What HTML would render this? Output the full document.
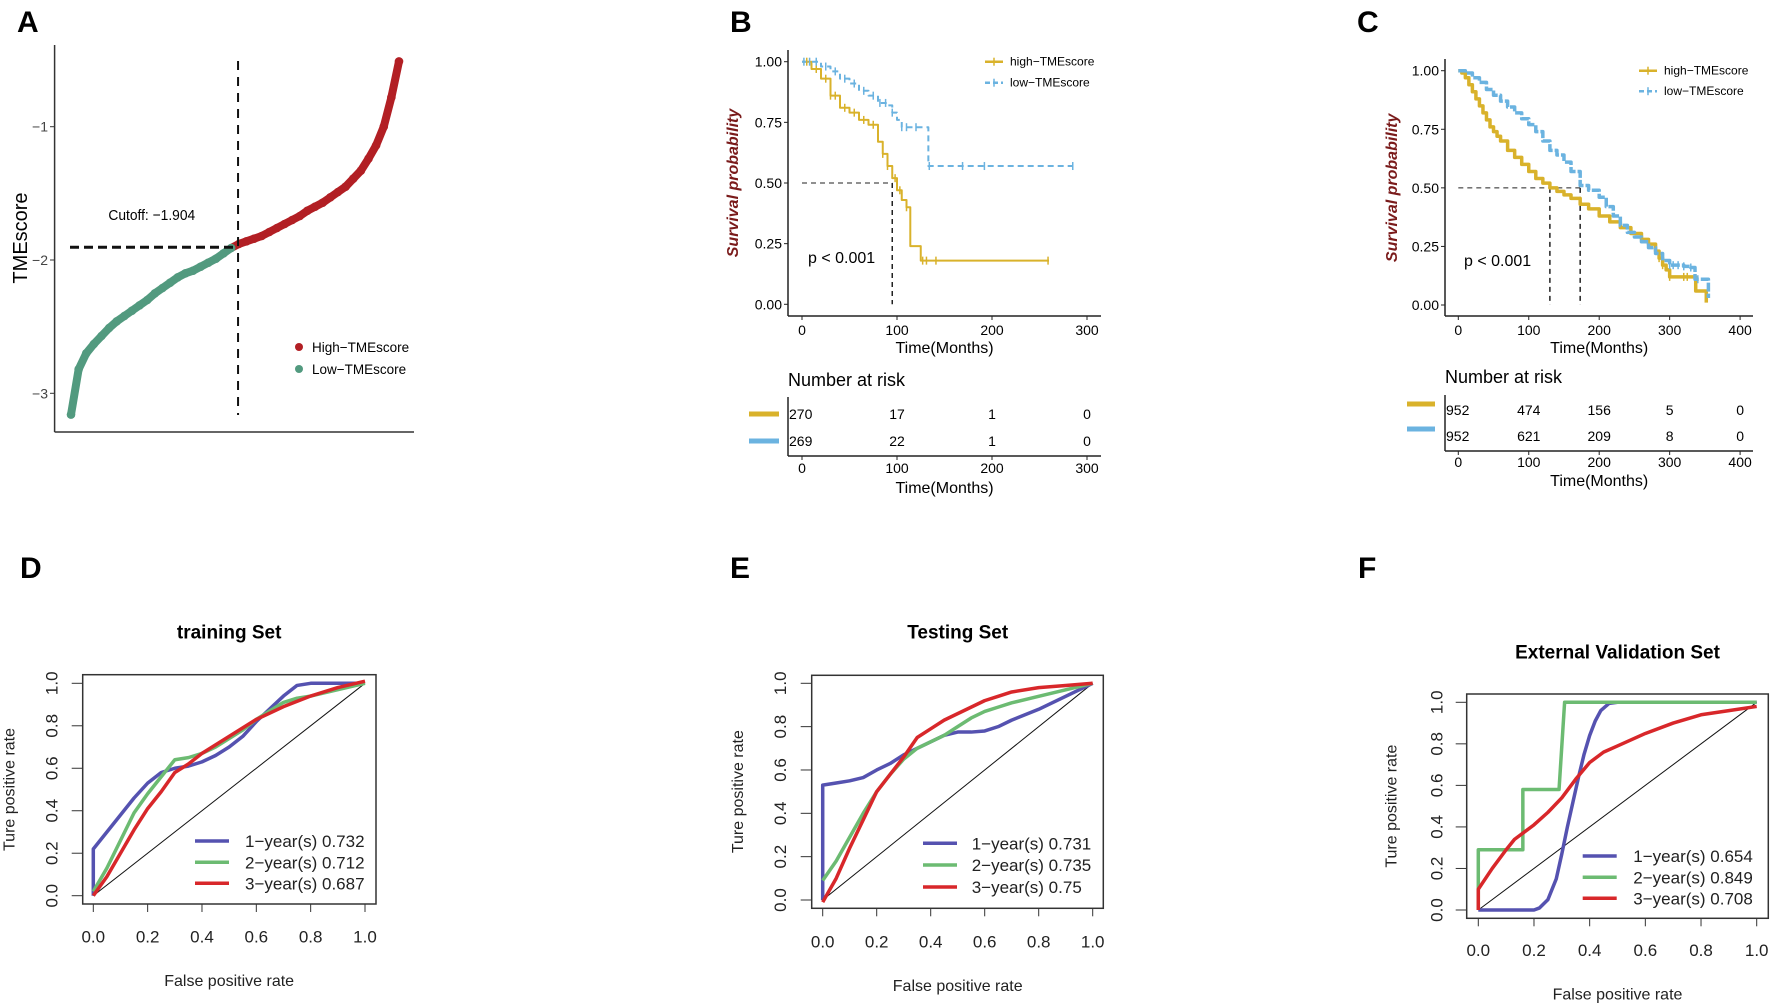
<!DOCTYPE html>
<html><head><meta charset="utf-8"><style>
html,body{margin:0;padding:0;background:#fff}
svg{display:block;font-family:"Liberation Sans",sans-serif}
</style></head><body>
<svg id="fig" width="1772" height="1005" viewBox="0 0 1772 1005" xmlns="http://www.w3.org/2000/svg"></svg>
<script>
// ---- Panel A data ----
const aScores=[-3.16,-2.82,-2.70,-2.63,-2.57,-2.51,-2.46,-2.42,-2.38,-2.34,-2.30,-2.25,-2.21,-2.17,-2.13,-2.10,-2.08,-2.05,-2.02,-1.99,-1.95,-1.91,-1.88,-1.86,-1.84,-1.82,-1.79,-1.76,-1.73,-1.70,-1.67,-1.63,-1.60,-1.57,-1.53,-1.49,-1.45,-1.39,-1.33,-1.24,-1.14,-1.00,-0.78,-0.51];
const aCutoff=-1.904;
const aTicks=[-1,-2,-3];
// ---- Panel B data ----
const bHighT=[0,10,20,30,40,50,60,70,80,85,90,95,100,105,110,114,125,260];
const bHighS=[1.0,0.97,0.93,0.86,0.81,0.79,0.76,0.74,0.67,0.62,0.57,0.52,0.47,0.43,0.40,0.24,0.18,0.18];
const bLowT=[0,20,30,40,50,60,70,80,90,95,100,105,131,133,285];
const bLowS=[1.0,0.98,0.96,0.93,0.91,0.88,0.86,0.83,0.82,0.79,0.76,0.73,0.73,0.57,0.57];
const bHighCens=[5,15,25,30,35,45,55,65,75,85,90,98,103,110,127,131,141,259];
const bLowCens=[2,8,15,25,35,45,55,65,75,82,88,95,105,110,120,134,169,192,285];
const bMedian=95;
const bTicks=[0,100,200,300];
const bRiskHigh=[270,17,1,0];
const bRiskLow=[269,22,1,0];
// ---- Panel C data ----
const cHighT=[0,5,10,15,20,25,30,35,40,45,50,55,60,70,80,90,100,110,120,130,140,150,160,173,185,200,215,230,245,260,270,280,285,290,295,300,335,337,350,352];
const cHighS=[1.0,0.99,0.97,0.94,0.91,0.88,0.85,0.82,0.79,0.76,0.74,0.72,0.70,0.66,0.63,0.60,0.57,0.54,0.52,0.50,0.485,0.47,0.455,0.43,0.41,0.38,0.355,0.33,0.305,0.28,0.26,0.23,0.20,0.17,0.15,0.12,0.12,0.06,0.06,0.01];
const cLowT=[0,10,20,30,40,50,60,70,80,90,100,110,120,130,140,150,160,173,185,200,210,220,230,240,250,260,270,280,290,300,320,330,336,353,355];
const cLowS=[1.0,0.99,0.97,0.95,0.92,0.895,0.87,0.845,0.82,0.795,0.77,0.74,0.70,0.66,0.64,0.61,0.57,0.51,0.49,0.46,0.42,0.38,0.34,0.31,0.29,0.27,0.245,0.22,0.19,0.17,0.165,0.16,0.11,0.11,0.03];
const cLowCens=[300,305,312,320,330,340];
const cHighCens=[285,290,300,320,325];
const cMedians=[130,173];
const cTicks=[0,100,200,300,400];
const cRiskHigh=[952,474,156,5,0];
const cRiskLow=[952,621,209,8,0];
// ---- ROC data ----
const dBlueX=[0,0,0.05,0.1,0.15,0.2,0.25,0.3,0.35,0.4,0.45,0.5,0.55,0.6,0.65,0.7,0.75,0.8,1];
const dBlueY=[0,0.22,0.3,0.38,0.46,0.53,0.58,0.60,0.61,0.63,0.66,0.70,0.75,0.82,0.88,0.94,0.99,1.0,1.0];
const dGreenX=[0,0.05,0.1,0.15,0.2,0.25,0.3,0.35,0.4,0.45,0.5,0.55,0.6,0.65,0.7,0.75,0.8,0.9,1];
const dGreenY=[0.02,0.13,0.26,0.39,0.48,0.56,0.64,0.65,0.67,0.70,0.74,0.78,0.83,0.87,0.91,0.93,0.94,0.97,1.0];
const dRedX=[0,0.05,0.1,0.15,0.2,0.25,0.3,0.35,0.4,0.45,0.5,0.55,0.6,0.65,0.7,0.8,0.9,1];
const dRedY=[0,0.09,0.2,0.31,0.41,0.49,0.58,0.62,0.67,0.71,0.75,0.79,0.83,0.86,0.89,0.94,0.98,1.01];
const eBlueX=[0,0,0.05,0.1,0.15,0.2,0.25,0.3,0.35,0.4,0.45,0.5,0.55,0.6,0.65,0.7,0.8,0.9,1];
const eBlueY=[0,0.53,0.54,0.55,0.565,0.6,0.63,0.67,0.70,0.73,0.76,0.775,0.775,0.78,0.80,0.83,0.88,0.94,1.0];
const eGreenX=[0,0.05,0.1,0.15,0.2,0.25,0.3,0.35,0.4,0.45,0.5,0.55,0.6,0.65,0.7,0.8,0.9,1];
const eGreenY=[0.09,0.18,0.29,0.40,0.50,0.58,0.65,0.70,0.73,0.76,0.80,0.84,0.87,0.89,0.91,0.94,0.97,1.0];
const eRedX=[0,0.05,0.1,0.15,0.2,0.25,0.3,0.35,0.4,0.45,0.5,0.55,0.6,0.65,0.7,0.8,0.9,1];
const eRedY=[-0.01,0.1,0.24,0.37,0.50,0.58,0.66,0.75,0.79,0.83,0.86,0.89,0.92,0.94,0.96,0.98,0.99,1.0];
const fBlueX=[0,0.2,0.22,0.25,0.28,0.3,0.32,0.34,0.36,0.38,0.4,0.42,0.44,0.47,0.5,1];
const fBlueY=[0,0,0.01,0.05,0.15,0.27,0.40,0.52,0.64,0.75,0.84,0.91,0.96,0.995,1,1];
const fGreenX=[0,0,0.16,0.16,0.29,0.31,1];
const fGreenY=[0,0.29,0.29,0.58,0.58,1,1];
const fRedX=[0,0,0.05,0.1,0.13,0.2,0.25,0.3,0.35,0.4,0.45,0.5,0.6,0.7,0.8,0.9,1];
const fRedY=[0,0.1,0.2,0.29,0.34,0.41,0.47,0.54,0.63,0.71,0.76,0.79,0.85,0.90,0.94,0.96,0.98];
const rocTicks=[0,0.2,0.4,0.6,0.8,1.0];
const dLegend=["1\u2212year(s) 0.732","2\u2212year(s) 0.712","3\u2212year(s) 0.687"];
const eLegend=["1\u2212year(s) 0.731","2\u2212year(s) 0.735","3\u2212year(s) 0.75"];
const fLegend=["1\u2212year(s) 0.654","2\u2212year(s) 0.849","3\u2212year(s) 0.708"];

const NS="http://www.w3.org/2000/svg";
const svg=document.getElementById('fig');
function mk(tag,attrs,parent,text){const e=document.createElementNS(NS,tag);for(const k in attrs)e.setAttribute(k,attrs[k]);if(text!==undefined)e.textContent=text;(parent||svg).appendChild(e);return e;}
function grp(name){const g=mk('g',{});return g;}
const GOLD="#D9B22B",SKY="#6BB3E0",BLUE="#5552B0",GREEN="#6CBB72",RED="#D8272A";

[["A",17,32],["B",730,32],["C",1357,32],["D",20,578],["E",730,578],["F",1358,578]].forEach(l=>{
 const t=mk('text',{x:l[1],y:l[2],'font-size':30,'font-weight':'bold'},svg,l[0]);
 
 
});

// ===== Panel A =====
(function(){
 const g=grp('panel-a-risk-plot');
 const x0=71,x1=399;const ax=i=>x0+(x1-x0)*i/(aScores.length-1);
 const ay=v=>260-(v+2)*133.3;
 mk('line',{x1:54.6,y1:45,x2:54.6,y2:432,stroke:'#333','stroke-width':1.5},g);
 mk('line',{x1:54.6,y1:432,x2:414,y2:432,stroke:'#333','stroke-width':1.5},g);
 aTicks.forEach(v=>{mk('line',{x1:50,y1:ay(v),x2:54.6,y2:ay(v),stroke:'#333'},g);
  mk('text',{x:48,y:ay(v)+5,'text-anchor':'end','font-size':14,fill:'#444'},g,'\u2212'+Math.abs(v));});
 const yt=mk('text',{x:0,y:0,'font-size':20,'text-anchor':'middle',transform:'translate(27,238) rotate(-90)'},g,'TMEscore');
 
 let low=[],high=[];
 aScores.forEach((v,i)=>{(v<=aCutoff?low:high).push([ax(i),ay(v)]);});
 const cutIdx=low.length;
 if(high.length&&low.length)high.unshift(low[low.length-1]);
 [[low,'#529A7F'],[high,'#B21F24']].forEach(s=>{
  mk('polyline',{points:s[0].map(p=>p.join(',')).join(' '),fill:'none',stroke:s[1],'stroke-width':8,'stroke-linejoin':'round','stroke-linecap':'round'},g);
 });
 aScores.forEach((v,i)=>{const c=mk('circle',{cx:ax(i),cy:ay(v),r:4.3,fill:v<=aCutoff?'#529A7F':'#B21F24'},g);
  });
 const cx=ax(cutIdx-0.1);
 mk('line',{x1:cx,y1:61,x2:cx,y2:415,stroke:'#111','stroke-width':2,'stroke-dasharray':'9,7'},g);
 mk('line',{x1:70,y1:ay(aCutoff),x2:cx,y2:ay(aCutoff),stroke:'#111','stroke-width':3,'stroke-dasharray':'9,5'},g);
 mk('text',{x:152,y:220,'text-anchor':'middle','font-size':15,transform:'scale(0.92,1) translate(13,0)'},g,'Cutoff: \u22121.904');
 mk('circle',{cx:299,cy:347,r:4,fill:'#B21F24'},g);mk('circle',{cx:299,cy:369,r:4,fill:'#529A7F'},g);
 const l1=mk('text',{x:312,y:352,'font-size':13.5},g,'High\u2212TMEscore');
 const l2=mk('text',{x:312,y:374,'font-size':13.5},g,'Low\u2212TMEscore');
})();

function km(o){
 const g=grp(o.name);
 const X=t=>o.xz+t*o.kx, Y=s=>o.y0+(o.y1-o.y0)*s;
 mk('line',{x1:o.axL,y1:o.axT,x2:o.axL,y2:o.axB,stroke:'#222','stroke-width':1.5},g);
 mk('line',{x1:o.axL,y1:o.axB,x2:o.axR,y2:o.axB,stroke:'#222','stroke-width':1.5},g);
 [1,0.75,0.5,0.25,0].forEach(s=>{mk('line',{x1:o.axL-4,y1:Y(s),x2:o.axL,y2:Y(s),stroke:'#222'},g);
  mk('text',{x:o.axL-6,y:Y(s)+5,'text-anchor':'end','font-size':14},g,s.toFixed(2));});
 o.ticks.forEach(t=>{mk('line',{x1:X(t),y1:o.axB,x2:X(t),y2:o.axB+4,stroke:'#222'},g);
  mk('text',{x:X(t),y:o.axB+19,'text-anchor':'middle','font-size':14},g,t);});
 mk('text',{x:(X(0)+X(o.ticks[o.ticks.length-1]))/2,y:o.axB+37,'text-anchor':'middle','font-size':16},g,'Time(Months)');
 mk('text',{x:0,y:0,'font-size':16,'font-weight':'bold','font-style':'italic',fill:'#7A1B1B','text-anchor':'middle',transform:`translate(${o.ytx},${(Y(1)+Y(0))/2}) rotate(-90)`},g,'Survival probability');
 function path(T,S){let d=`M${X(T[0])},${Y(S[0])}`;for(let i=1;i<T.length;i++)d+=` H${X(T[i])} V${Y(S[i])}`;return d;}
 function at(T,S,t){let v=S[0];for(let i=0;i<T.length;i++)if(T[i]<=t)v=S[i];return v;}
 mk('line',{x1:X(0),y1:Y(0.5),x2:X(Math.max(...o.med)),y2:Y(0.5),stroke:'#222','stroke-dasharray':'5,4'},g);
 o.med.forEach(m=>mk('line',{x1:X(m),y1:Y(0.5),x2:X(m),y2:Y(0),stroke:'#222','stroke-width':1.5,'stroke-dasharray':'5,4'},g));
 const hp=mk('path',{d:path(o.hT,o.hS),fill:'none',stroke:GOLD,'stroke-width':o.sw,'stroke-linejoin':'round'},g);
 
 const lp=mk('path',{d:path(o.lT,o.lS),fill:'none',stroke:SKY,'stroke-width':o.sw,'stroke-dasharray':o.lowDash,'stroke-linejoin':'round'},g);
 
 (o.hC||[]).forEach(t=>{const s=at(o.hT,o.hS,t);mk('line',{x1:X(t),y1:Y(s)-4,x2:X(t),y2:Y(s)+4,stroke:GOLD,'stroke-width':1.5},g);});
 (o.lC||[]).forEach(t=>{const s=at(o.lT,o.lS,t);mk('line',{x1:X(t),y1:Y(s)-4,x2:X(t),y2:Y(s)+4,stroke:SKY,'stroke-width':1.5},g);});
 mk('text',{x:o.px,y:o.py,'font-size':16},g,'p < 0.001');
 mk('line',{x1:o.lgx,y1:o.lgy,x2:o.lgx+18,y2:o.lgy,stroke:GOLD,'stroke-width':2.5},g);
 mk('line',{x1:o.lgx+9,y1:o.lgy-4,x2:o.lgx+9,y2:o.lgy+4,stroke:GOLD,'stroke-width':1.5},g);
 mk('line',{x1:o.lgx,y1:o.lgy+o.lgd,x2:o.lgx+18,y2:o.lgy+o.lgd,stroke:SKY,'stroke-width':2.5,'stroke-dasharray':'5,3'},g);
 mk('line',{x1:o.lgx+9,y1:o.lgy+o.lgd-4,x2:o.lgx+9,y2:o.lgy+o.lgd+4,stroke:SKY,'stroke-width':1.5},g);
 mk('text',{x:o.lgx+25,y:o.lgy+4,'font-size':12},g,'high\u2212TMEscore');
 mk('text',{x:o.lgx+25,y:o.lgy+o.lgd+4,'font-size':12},g,'low\u2212TMEscore');
 const r=o.risk;
 mk('text',{x:o.axL,y:r.title,'font-size':18},g,'Number at risk');
 mk('line',{x1:o.axL,y1:r.top,x2:o.axL,y2:r.bot,stroke:'#222','stroke-width':1.5},g);
 mk('line',{x1:o.axL,y1:r.bot,x2:o.axR,y2:r.bot,stroke:'#222','stroke-width':1.5},g);
 [[o.rh,r.r1,GOLD,r.b1],[o.rl,r.r2,SKY,r.b2]].forEach(row=>{
  mk('line',{x1:r.bx0,y1:row[3],x2:r.bx1,y2:row[3],stroke:row[2],'stroke-width':5},g);
  row[0].forEach((n,i)=>{const t=o.ticks[i];mk('text',{x:i==0?o.axL+1:X(t),y:row[1]+5,'text-anchor':i==0?'start':'middle','font-size':14},g,n);});
 });
 o.ticks.forEach(t=>{mk('line',{x1:X(t),y1:r.bot,x2:X(t),y2:r.bot+4,stroke:'#222'},g);
  mk('text',{x:X(t),y:r.tl+5,'text-anchor':'middle','font-size':14},g,t);});
 mk('text',{x:(X(0)+X(o.ticks[o.ticks.length-1]))/2,y:r.tt+6,'text-anchor':'middle','font-size':16},g,'Time(Months)');
}
km({name:'panel-b-km',xz:802,kx:0.950,y0:304.3,y1:61.7,axL:788,axR:1101,axT:50,axB:316,ticks:bTicks,ytx:738,sw:2,
 hT:bHighT,hS:bHighS,lT:bLowT,lS:bLowS,hC:bHighCens,lC:bLowCens,med:[bMedian],px:808,py:263,lowDash:'6,4',
 lgx:985,lgy:61.7,lgd:21,rh:bRiskHigh,rl:bRiskLow,
 risk:{title:386,top:397,bot:456,r1:414,r2:441,b1:414,b2:441,bx0:749,bx1:779,tl:468,tt:487}});
km({name:'panel-c-km',xz:1458.3,kx:0.7045,y0:305,y1:70.7,axL:1445,axR:1753,axT:59,axB:316,ticks:cTicks,ytx:1397,sw:3.5,
 hT:cHighT,hS:cHighS,lT:cLowT,lS:cLowS,hC:cHighCens,lC:cLowCens,med:cMedians,px:1464,py:266,lowDash:'9,2',
 lgx:1639,lgy:70.7,lgd:20.5,rh:cRiskHigh,rl:cRiskLow,
 risk:{title:383,top:395,bot:451,r1:410,r2:436,b1:404,b2:429,bx0:1407,bx1:1435,tl:462,tt:480}});

function roc(o){
 const g=grp(o.name);
 const X=v=>o.x0+(o.x1-o.x0)*v, Y=v=>o.y0+(o.y1-o.y0)*v;
 mk('rect',{x:o.bl,y:o.bt,width:o.br-o.bl,height:o.bb-o.bt,fill:'none',stroke:'#333','stroke-width':1.5},g);
 rocTicks.forEach(t=>{
  mk('line',{x1:X(t),y1:o.bb,x2:X(t),y2:o.bb+8,stroke:'#333'},g);
  mk('text',{x:X(t),y:o.xl+6,'text-anchor':'middle','font-size':17,fill:'#222'},g,t.toFixed(1));
  mk('line',{x1:o.bl-11,y1:Y(t),x2:o.bl,y2:Y(t),stroke:'#333'},g);
  mk('text',{x:0,y:0,'text-anchor':'middle','font-size':17,fill:'#222',transform:`translate(${o.yl+6},${Y(t)}) rotate(-90)`},g,t.toFixed(1));
 });
 mk('text',{x:0,y:0,'text-anchor':'middle','font-size':16,fill:'#222',transform:`translate(${o.ytx+5},${(Y(0)+Y(1))/2}) rotate(-90)`},g,'Ture positive rate');
 mk('text',{x:(X(0)+X(1))/2,y:o.xtt+6,'text-anchor':'middle','font-size':16,fill:'#222'},g,'False positive rate');
 const tt=mk('text',{x:(X(0)+X(1))/2,y:o.tit+7,'text-anchor':'middle','font-size':19,'font-weight':'bold'},g,o.title);
 
 mk('line',{x1:X(0),y1:Y(0),x2:X(1),y2:Y(1),stroke:'#111','stroke-width':1},g);
 const ser=[[o.bx,o.by,BLUE],[o.gx,o.gy,GREEN],[o.rx,o.ry,RED]];
 ser.forEach((s,k)=>{
  const p=mk('polyline',{points:s[0].map((v,i)=>X(v)+','+Y(s[1][i])).join(' '),fill:'none',stroke:s[2],'stroke-width':3.5,'stroke-linejoin':'round'},g);
  
 });
 o.leg.forEach((t,k)=>{
  mk('line',{x1:o.lx0,y1:o.ly[k],x2:o.lx1,y2:o.ly[k],stroke:ser[k][2],'stroke-width':3.5},g);
  const lt=mk('text',{x:o.ltx,y:o.ly[k]+6,'font-size':17,fill:'#222'},g,t);
  
 });
}
roc({name:'panel-d-roc',title:'training Set',x0:93.3,x1:365,y0:895.7,y1:683.3,bl:82.7,br:376,bt:674.7,bb:904,
 xl:936.7,yl:51.7,ytx:9.3,xtt:980,tit:631.7,bx:dBlueX,by:dBlueY,gx:dGreenX,gy:dGreenY,rx:dRedX,ry:dRedY,
 leg:dLegend,lx0:195,lx1:229,ltx:245,ly:[841,862.3,883.3]});
roc({name:'panel-e-roc',title:'Testing Set',x0:822.7,x1:1092.7,y0:900,y1:683.3,bl:811.7,br:1103.3,bt:675.3,bb:908.3,
 xl:941.7,yl:780,ytx:738,xtt:985,tit:631.7,bx:eBlueX,by:eBlueY,gx:eGreenX,gy:eGreenY,rx:eRedX,ry:eRedY,
 leg:eLegend,lx0:923,lx1:957,ltx:971.7,ly:[843.3,865,887]});
roc({name:'panel-f-roc',title:'External Validation Set',x0:1478.3,x1:1756.7,y0:910,y1:702.3,bl:1466.7,br:1768.3,bt:694,bb:918.3,
 xl:950,yl:1436.7,ytx:1391.7,xtt:993.3,tit:651.7,bx:fBlueX,by:fBlueY,gx:fGreenX,gy:fGreenY,rx:fRedX,ry:fRedY,
 leg:fLegend,lx0:1582.7,lx1:1616.7,ltx:1633.3,ly:[856,877.3,898.3]});
</script>
</body></html>
